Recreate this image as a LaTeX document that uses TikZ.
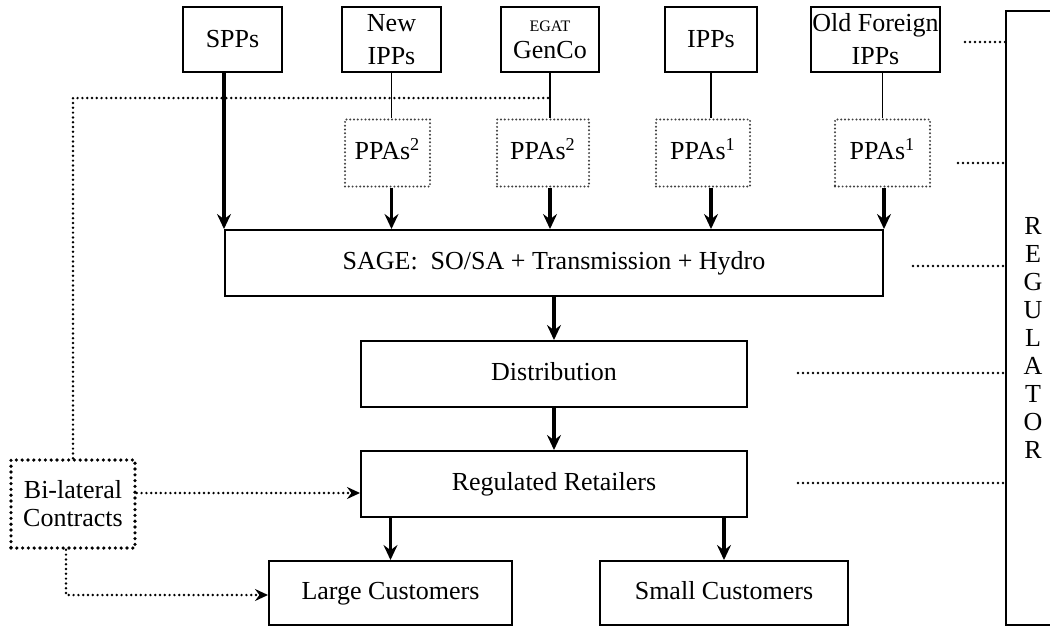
\documentclass[tikz,border=0pt]{standalone}
\usepackage{fontspec}
\setmainfont{Liberation Serif}
\usetikzlibrary{arrows.meta}

\begin{document}
\begin{tikzpicture}[x=0.5pt,y=-0.5pt,
	font=\fontsize{13}{16.5}\selectfont,
	gen/.style={draw,line width=0.9pt,inner sep=0pt,align=center,minimum height=32.5pt},
	ppa/.style={draw=black!75,line width=1.1pt,line cap=round,dash pattern=on 0pt off 1.9pt,inner sep=0pt,minimum width=#1,minimum height=33.5pt,text height=9pt,text depth=3pt},
	stage/.style={draw,line width=1pt,inner sep=0pt,minimum height=33pt,text height=9pt,text depth=3pt},
	deal/.style={draw,line width=1.8pt,line cap=round,dash pattern=on 0pt off 2.9pt,inner sep=0pt,align=center,minimum width=62pt,minimum height=44pt,font=\fontsize{13}{14}\selectfont},
	flow/.style={line width=1.6pt,-{Stealth[length=7.5pt,width=7pt,inset=2.6pt]}},
	link/.style={line width=0.6pt},
	dealline/.style={line width=1.35pt,line cap=round,dash pattern=on 0pt off 2.4pt},
	dealarrow/.style={dealline,-{Stealth[length=6.5pt,width=6pt,inset=2.2pt]}},
	reglink/.style={line width=1.4pt,line cap=round,dash pattern=on 0pt off 2.5pt}]
	\useasboundingbox (0,0) rectangle (1050,627);
	\clip (0,0) rectangle (1050,627);

	\node[gen,minimum width=49.5pt] (spp)    at (232.5,39.5) {SPPs};
	\node[gen,minimum width=49.5pt] (newipp) at (391.5,39.5) {New\\IPPs};
	\node[gen,minimum width=49pt]   (egat)   at (550,39.5)   {{\fontsize{8}{9}\selectfont EGAT}\\[-3pt]GenCo};
	\node[gen,minimum width=46pt]   (ipp)    at (711,39.5)   {IPPs};
	\node[gen,minimum width=64.5pt] (oldipp) at (875.5,39.5) {Old Foreign\\IPPs};

	\node[ppa=42.5pt] (newppa)  at (387.5,153) {PPAs\textsuperscript{2}};
	\node[ppa=46pt]   (egatppa) at (543,153)   {PPAs\textsuperscript{2}};
	\node[ppa=47pt]   (ippppa)  at (703,153)   {PPAs\textsuperscript{1}};
	\node[ppa=47.5pt] (oldppa)  at (882.5,153) {PPAs\textsuperscript{1}};

	\node[stage,minimum width=329pt] (sage)   at (554,263) {SAGE:\ \ SO/SA + Transmission + Hydro};
	\node[stage,minimum width=193pt] (dist)   at (554,374) {Distribution};
	\node[stage,minimum width=193pt] (retail) at (554,484) {Regulated Retailers};
	\node[stage,minimum width=121.5pt,minimum height=32pt] (large) at (390.5,593) {Large Customers};
	\node[stage,minimum width=124pt,minimum height=32pt]   (small) at (724,593)   {Small Customers};

	\node[deal] (bilat) at (73,504) {Bi-lateral\\Contracts};

	\node[gen,minimum width=27pt,minimum height=307pt] (reg) at (1033,318) {};
	\node[align=center,inner sep=0pt,font=\fontsize{13}{14}\selectfont] (regtxt) at (1033,337.5) {R\\E\\G\\U\\L\\A\\T\\O\\R};

	\draw[flow] (spp.south -| sage.north west) -- (sage.north west);
	\draw[link] (newipp.south) -- (newppa.north -| newipp.south);
	\draw[flow] (newppa.south -| newipp.south) -- (sage.north -| newipp.south);
	\draw[link] (egat.south) -- (egatppa.north -| egat.south);
	\draw[flow] (egatppa.south -| egat.south) -- (sage.north -| egat.south);
	\draw[link] (ipp.south) -- (ippppa.north -| ipp.south);
	\draw[flow] (ippppa.south -| ipp.south) -- (sage.north -| ipp.south);
	\draw[link] (oldipp.south -| oldppa.north) -- (oldppa.north);
	\draw[flow] (oldppa.south -| sage.north east) -- (sage.north east);

	\draw[flow] (sage.south) -- (dist.north);
	\draw[flow] (dist.south) -- (retail.north);
	\draw[flow] (retail.south -| large.north) -- (large.north);
	\draw[flow] (retail.south -| small.north) -- (small.north);

	\coordinate (tie) at (egat.south |- 0,98);
	\draw[dealline] (bilat.north) |- (tie);
	\draw[dealarrow] ([yshift=5.5pt]bilat.east) -- ([yshift=5.5pt]bilat.east -| retail.west);
	\draw[dealarrow] ([xshift=-3.5pt]bilat.south) |- ([yshift=-1pt]large.west);

	\foreach \y/\x in {42/965,163/958,266/913,373/798,483/798}
		\draw[reglink] (\x,\y) -- (reg.west |- 0,\y);
\end{tikzpicture}
\end{document}
